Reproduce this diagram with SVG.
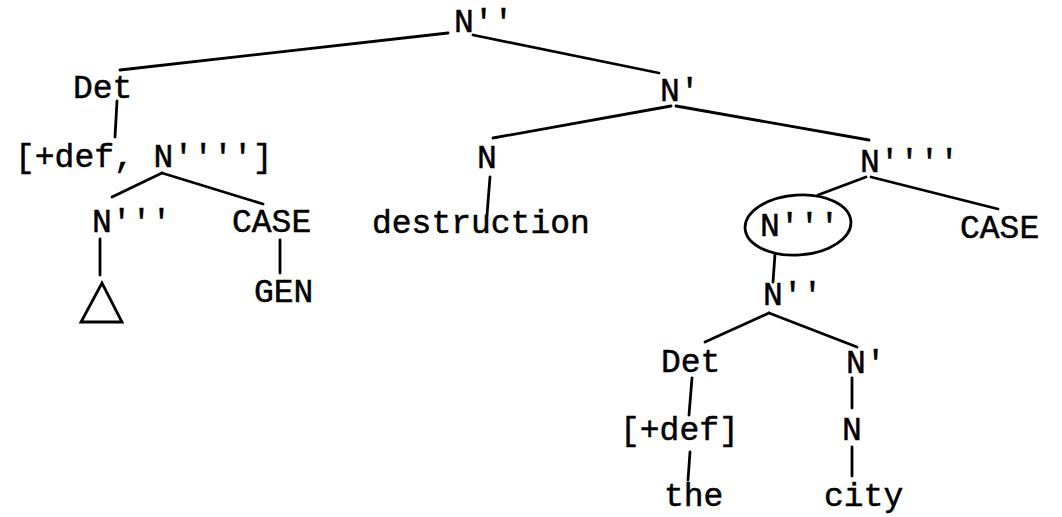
<svg xmlns="http://www.w3.org/2000/svg" width="1062" height="517" viewBox="0 0 1062 517">
<style>
text{font-family:"Liberation Mono","Courier New",monospace;font-size:33px;fill:#000;stroke:#000;stroke-width:0.5}
.c line,.c polygon,.c ellipse{stroke:#000;stroke-width:2.8;fill:none;stroke-linecap:round}
</style>
<rect width="1062" height="517" fill="#fff"/>
<g class="c" id="connectors">
<line x1="448" y1="33" x2="120" y2="70"/>
<line x1="473" y1="35" x2="659" y2="73"/>
<line x1="117" y1="101" x2="115" y2="137"/>
<line x1="162" y1="173" x2="112" y2="197"/>
<line x1="162" y1="173" x2="263" y2="204"/>
<line x1="100" y1="239" x2="100" y2="275"/>
<line x1="280" y1="240" x2="280" y2="273"/>
<line x1="671" y1="106" x2="493" y2="138"/>
<line x1="676" y1="106" x2="869" y2="140"/>
<line x1="490" y1="177" x2="487" y2="215"/>
<line x1="866" y1="177" x2="818" y2="195"/>
<line x1="871" y1="177" x2="998" y2="209"/>
<line x1="775" y1="254" x2="773" y2="282"/>
<line x1="769" y1="313" x2="705" y2="342"/>
<line x1="769" y1="313" x2="857" y2="347"/>
<line x1="692" y1="378" x2="689" y2="415"/>
<line x1="690" y1="452" x2="688" y2="480"/>
<line x1="852" y1="378" x2="852" y2="408"/>
<line x1="852" y1="447" x2="852" y2="476"/>
</g>
<g id="n-root"><text x="454" y="32">N''</text></g>
<g id="n-det1"><text x="73" y="98">Det</text></g>
<g id="n-def1"><text x="15" y="167">[+def, N'''']</text></g>
<g id="n-n3a"><text x="92" y="232">N'''</text></g>
<g id="n-tri" class="c"><polygon points="102,283 81,322 122,322"/></g>
<g id="n-case1"><text x="232" y="232">CASE</text></g>
<g id="n-gen"><text x="254" y="302">GEN</text></g>
<g id="n-nbar"><text x="660" y="101">N'</text></g>
<g id="n-n"><text x="477" y="168">N</text></g>
<g id="n-destruction"><text x="372" y="233">destruction</text></g>
<g id="n-n4"><text x="860" y="172">N''''</text></g>
<g id="n-n3b" class="c"><ellipse cx="798" cy="225" rx="53" ry="30" transform="rotate(-4 798 225)"/><text x="760" y="236">N'''</text></g>
<g id="n-case2"><text x="960" y="238">CASE</text></g>
<g id="n-n2"><text x="763" y="305">N''</text></g>
<g id="n-det2"><text x="661" y="372">Det</text></g>
<g id="n-nbar2"><text x="846" y="373">N'</text></g>
<g id="n-def2"><text x="620" y="440">[+def]</text></g>
<g id="n-n5"><text x="842" y="440">N</text></g>
<g id="n-the"><text x="664" y="506">the</text></g>
<g id="n-city"><text x="824" y="506">city</text></g>
</svg>
